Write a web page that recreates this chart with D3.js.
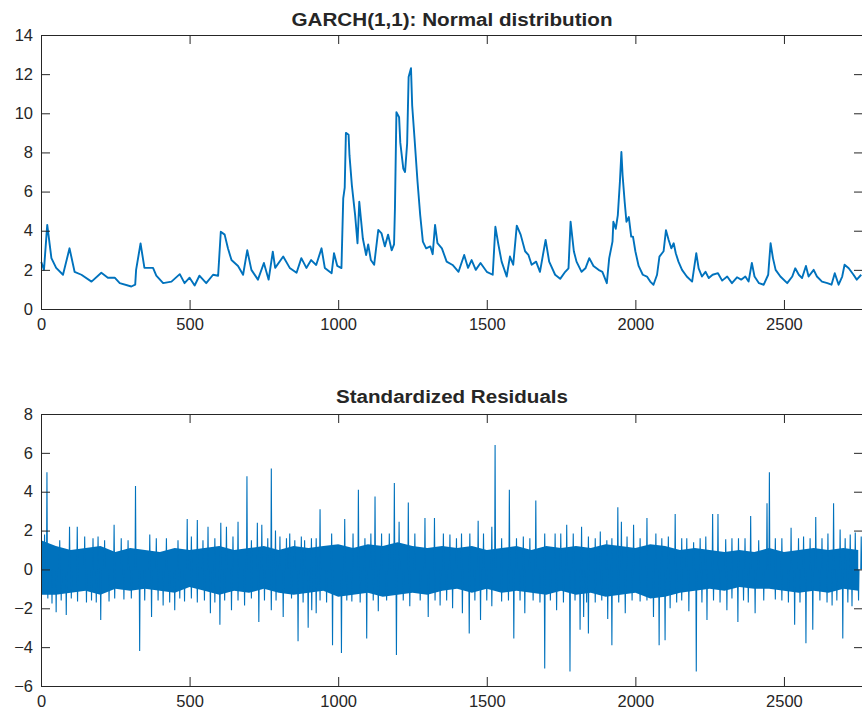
<!DOCTYPE html>
<html>
<head>
<meta charset="utf-8">
<title>GARCH(1,1)</title>
<script src="https://d3js.org/d3.v7.min.js"></script>
<style>
  body { margin: 0; background: #fff; }
  svg text { font-family: "Liberation Sans", Arial, Helvetica, sans-serif; fill: #262626; }
  .axis path, .axis line { stroke: #262626; stroke-width: 1; }
  .axis text { font-size: 16.5px; fill: #262626; }
  .titulo { font-size: 18px; font-weight: bold; }
</style>
</head>
<body>
<div id="chart"></div>
<script>
"use strict"

// ticks
var xTicks = [0, 500, 1000, 1500, 2000, 2500];
var yTicksVol = [0, 2, 4, 6, 8, 10, 12, 14];
var yTicksRes = [-6, -4, -2, 0, 2, 4, 6, 8];

// volatilidade condicional: indice e valor
var volIdx = [1, 10, 21, 35, 51, 74, 96, 113, 136, 170, 203, 225, 248, 265, 304, 317, 320, 335, 348, 377,
  388, 411, 439, 467, 483, 500, 517, 533, 556, 579, 596, 605, 618, 629, 641, 663, 680, 694, 708, 730,
  750, 766, 780, 788, 815, 837, 860, 876, 893, 909, 926, 944, 955, 978, 986, 997, 1011, 1017, 1022, 1026,
  1035, 1038, 1046, 1057, 1065, 1071, 1083, 1094, 1101, 1110, 1121, 1135, 1146, 1157, 1168, 1180, 1188, 1191, 1196, 1205,
  1209, 1219, 1225, 1232, 1237, 1245, 1249, 1257, 1267, 1276, 1285, 1296, 1310, 1318, 1326, 1334, 1349, 1365, 1385, 1405,
  1424, 1437, 1449, 1463, 1479, 1500, 1520, 1529, 1539, 1550, 1567, 1578, 1589, 1601, 1614, 1629, 1640, 1651, 1666, 1679,
  1698, 1710, 1730, 1747, 1764, 1775, 1782, 1793, 1802, 1819, 1832, 1845, 1859, 1876, 1889, 1904, 1912, 1923, 1926, 1934,
  1941, 1948, 1953, 1957, 1964, 1970, 1978, 1986, 1992, 2000, 2011, 2025, 2039, 2050, 2061, 2073, 2081, 2095, 2103, 2112,
  2121, 2129, 2136, 2145, 2157, 2173, 2191, 2205, 2213, 2224, 2236, 2247, 2260, 2278, 2292, 2309, 2325, 2342, 2356, 2370,
  2381, 2392, 2401, 2416, 2432, 2447, 2455, 2463, 2472, 2488, 2511, 2528, 2538, 2550, 2561, 2574, 2583, 2600, 2611, 2628,
  2646, 2660, 2671, 2684, 2696, 2704, 2718, 2734, 2745, 2760];
var volVal = [2.4, 2.0, 4.3, 2.6, 2.1, 1.75, 3.1, 1.9, 1.75, 1.4, 1.85, 1.6, 1.6, 1.32, 1.15, 1.24, 2.0, 3.35, 2.1, 2.1,
  1.7, 1.32, 1.4, 1.78, 1.32, 1.6, 1.2, 1.7, 1.32, 1.75, 1.7, 3.95, 3.8, 3.1, 2.5, 2.2, 1.75, 3.0, 2.0, 1.5,
  2.35, 1.5, 2.93, 2.1, 2.68, 2.1, 1.85, 2.6, 2.1, 2.5, 2.25, 3.1, 2.1, 1.83, 2.85, 2.2, 2.09, 5.65, 6.2, 9.0,
  8.9, 7.86, 6.33, 4.8, 3.36, 5.48, 3.6, 2.76, 3.3, 2.5, 2.26, 4.04, 3.86, 3.2, 3.8, 3.0, 3.3, 5.14, 10.06, 9.8,
  8.5, 7.18, 7.0, 8.45, 11.85, 12.3, 10.4, 8.7, 6.5, 4.8, 3.44, 3.1, 3.2, 2.8, 4.3, 3.36, 3.1, 2.42, 2.25, 1.9,
  2.76, 2.1, 2.5, 2.0, 2.35, 1.9, 1.75, 4.2, 3.3, 2.42, 1.66, 2.68, 2.26, 4.26, 3.8, 2.95, 2.77, 2.26, 2.42, 1.9,
  3.53, 2.42, 1.75, 1.54, 1.9, 2.08, 4.46, 2.95, 2.42, 1.9, 2.08, 2.6, 2.2, 2.0, 1.9, 1.32, 2.6, 3.44, 4.46, 4.1,
  4.8, 6.5, 8.02, 6.84, 5.48, 4.46, 4.7, 3.7, 3.7, 2.95, 2.2, 1.75, 1.66, 1.4, 1.24, 1.75, 2.68, 2.95, 4.03, 3.53,
  3.1, 3.36, 2.85, 2.42, 2.0, 1.66, 1.4, 2.85, 2.08, 1.66, 1.9, 1.58, 1.75, 1.83, 1.45, 1.66, 1.32, 1.62, 1.5, 1.66,
  1.4, 2.35, 1.66, 1.32, 1.24, 1.75, 3.36, 2.6, 2.0, 1.66, 1.32, 1.66, 2.08, 1.75, 1.58, 2.2, 1.66, 2.0, 1.66, 1.4,
  1.32, 1.24, 1.83, 1.24, 1.66, 2.26, 2.08, 1.75, 1.5, 1.75];

// residuos padronizados: faixa central (envelope) a cada 50 pontos
var bandIdx = [0, 50, 100, 150, 200, 250, 300, 350, 400, 450, 500, 550, 600, 650, 700, 750, 800, 850, 900, 950,
  1000, 1050, 1100, 1150, 1200, 1250, 1300, 1350, 1400, 1450, 1500, 1550, 1600, 1650, 1700, 1750, 1800, 1850, 1900, 1950,
  2000, 2050, 2100, 2150, 2200, 2250, 2300, 2350, 2400, 2450, 2500, 2550, 2600, 2650, 2700, 2750];
var bandHi = [1.5, 1.2, 1.0, 1.1, 1.2, 0.9, 1.1, 1.0, 0.9, 1.1, 1.0, 1.1, 1.2, 1.0, 1.1, 1.2, 1.0, 1.2, 1.1, 1.2,
  1.3, 1.1, 1.3, 1.2, 1.4, 1.2, 1.1, 1.2, 1.1, 1.2, 1.0, 1.1, 1.2, 1.0, 1.2, 1.1, 1.2, 1.1, 1.3, 1.2,
  1.1, 1.3, 1.2, 1.0, 1.1, 1.0, 0.9, 1.0, 0.9, 1.1, 0.9, 1.0, 1.1, 1.0, 1.1, 1.0];
var bandLo = [-1.3, -1.3, -1.2, -1.1, -1.3, -1.0, -1.1, -1.0, -1.1, -1.2, -0.9, -1.1, -1.3, -1.1, -1.2, -1.0, -1.2, -1.3, -1.2, -1.1,
  -1.4, -1.3, -1.2, -1.4, -1.3, -1.2, -1.3, -1.1, -1.0, -1.2, -1.0, -1.2, -1.1, -1.2, -1.3, -1.1, -1.3, -1.2, -1.4, -1.3,
  -1.2, -1.5, -1.4, -1.2, -1.1, -1.0, -1.1, -0.9, -1.0, -1.0, -1.1, -1.2, -1.1, -1.2, -1.0, -1.1];

// picos positivos
var upIdx = [12, 20, 63, 96, 122, 147, 175, 192, 214, 246, 270, 293, 318, 366, 388, 422, 461, 492, 506, 526,
  545, 562, 585, 605, 624, 646, 663, 693, 708, 728, 743, 763, 775, 789, 804, 826, 837, 854, 876, 887,
  910, 926, 939, 978, 1022, 1050, 1068, 1090, 1110, 1124, 1146, 1172, 1189, 1205, 1236, 1258, 1292, 1324, 1354, 1376,
  1398, 1415, 1443, 1471, 1489, 1517, 1528, 1550, 1576, 1600, 1623, 1645, 1665, 1695, 1730, 1749, 1769, 1791, 1819, 1842,
  1865, 1882, 1904, 1921, 1941, 1953, 1972, 1994, 2016, 2039, 2069, 2089, 2111, 2134, 2156, 2173, 2196, 2218, 2237, 2260,
  2278, 2304, 2325, 2347, 2369, 2388, 2415, 2443, 2451, 2471, 2493, 2524, 2549, 2566, 2588, 2607, 2628, 2648, 2667, 2689,
  2706, 2723, 2740, 2760];
var upVal = [1.8, 5.0, 1.5, 2.2, 2.2, 1.7, 1.6, 1.7, 1.5, 2.3, 1.6, 1.5, 4.3, 1.8, 1.6, 1.6, 1.5, 2.6, 1.7, 2.55,
  1.5, 2.2, 1.6, 2.4, 2.2, 1.7, 2.45, 4.8, 1.5, 2.4, 2.3, 1.6, 5.2, 2.0, 1.7, 1.6, 1.85, 1.5, 1.7, 1.5,
  1.6, 1.6, 3.1, 1.85, 2.6, 1.85, 4.1, 1.6, 1.85, 3.75, 1.85, 1.85, 4.45, 2.45, 3.45, 1.85, 2.65, 2.65, 1.85, 1.8,
  1.6, 1.85, 1.85, 2.5, 1.85, 2.2, 6.4, 1.6, 4.1, 1.6, 1.7, 1.6, 3.55, 1.85, 1.85, 1.85, 2.3, 1.85, 2.2, 1.7,
  1.6, 1.95, 1.5, 1.6, 3.2, 2.45, 1.7, 2.3, 1.6, 2.65, 1.85, 1.6, 1.7, 2.85, 1.6, 1.6, 1.4, 1.6, 1.7, 2.85,
  2.85, 1.55, 1.6, 1.6, 1.6, 2.75, 1.5, 3.4, 5.0, 1.6, 1.6, 2.15, 1.6, 1.7, 1.6, 2.7, 1.6, 1.85, 3.4, 2.05,
  1.6, 1.8, 1.9, 1.7];

// picos negativos
var dnIdx = [7, 23, 37, 51, 68, 85, 102, 123, 153, 170, 186, 201, 229, 248, 279, 304, 332, 349, 372, 394,
  411, 433, 450, 467, 483, 506, 526, 550, 570, 585, 602, 618, 641, 663, 685, 708, 733, 752, 775, 791,
  815, 843, 865, 882, 899, 911, 926, 939, 961, 981, 1011, 1029, 1046, 1074, 1096, 1118, 1135, 1163, 1196, 1219,
  1241, 1276, 1303, 1326, 1343, 1365, 1385, 1418, 1441, 1460, 1479, 1500, 1517, 1550, 1573, 1591, 1612, 1628, 1656, 1679,
  1695, 1714, 1735, 1758, 1780, 1797, 1814, 1826, 1836, 1842, 1865, 1887, 1907, 1921, 1944, 1966, 1989, 2016, 2039, 2061,
  2080, 2100, 2117, 2139, 2156, 2180, 2205, 2224, 2241, 2263, 2285, 2308, 2325, 2345, 2364, 2380, 2403, 2432, 2471, 2493,
  2515, 2536, 2554, 2574, 2597, 2621, 2645, 2662, 2678, 2698, 2715, 2729, 2751];
var dnVal = [-1.25, -1.5, -1.75, -2.2, -1.6, -2.35, -1.5, -1.65, -1.7, -1.6, -1.7, -2.6, -1.65, -1.5, -1.55, -1.5, -4.2, -1.6, -2.45, -1.6,
  -1.85, -1.7, -2.1, -1.5, -1.65, -1.5, -1.7, -1.6, -2.25, -1.7, -2.85, -1.6, -2.1, -1.6, -1.85, -1.5, -2.7, -1.6, -2.1, -1.6,
  -2.45, -1.5, -3.7, -1.7, -3.0, -2.1, -2.25, -1.6, -1.7, -3.9, -4.3, -1.6, -1.65, -1.7, -3.55, -1.6, -2.15, -1.6, -4.4, -1.6,
  -1.9, -1.6, -2.45, -1.6, -1.85, -1.6, -2.0, -2.25, -3.3, -1.6, -2.6, -1.6, -1.9, -1.65, -1.6, -3.55, -1.6, -2.25, -1.6, -1.7,
  -5.1, -1.6, -2.1, -1.7, -5.25, -1.6, -3.1, -2.45, -1.7, -3.3, -1.7, -1.6, -2.55, -3.9, -1.7, -2.25, -1.6, -1.65, -1.6, -2.45,
  -3.9, -3.65, -2.0, -1.7, -1.6, -2.15, -5.25, -1.7, -2.6, -1.6, -1.7, -2.1, -1.5, -2.7, -1.6, -1.7, -2.25, -1.6, -1.55, -1.6,
  -1.7, -2.85, -1.7, -3.8, -3.1, -1.6, -1.7, -1.85, -1.6, -3.55, -1.7, -1.9, -1.6];

var corLinha = '#0072BD';
var largura = 862, altura = 716;
var esquerda = 41, direita = 863;

var svg = d3.select('#chart').append('svg')
  .attr('width', largura)
  .attr('height', altura);

var x = d3.scaleLinear().domain([0, 2766]).range([esquerda, direita]);

function desenhaEixos(y, yTicks, topo, base) {
  svg.append('g').attr('class', 'axis')
    .attr('transform', 'translate(0,' + base + ')')
    .call(d3.axisBottom(x).tickValues(xTicks).tickSize(-9).tickSizeOuter(0).tickPadding(9).tickFormat(d3.format('d')));
  svg.append('g').attr('class', 'axis')
    .attr('transform', 'translate(0,' + topo + ')')
    .call(d3.axisTop(x).tickValues(xTicks).tickSize(-9).tickSizeOuter(0).tickFormat(''));
  svg.append('g').attr('class', 'axis')
    .attr('transform', 'translate(' + esquerda + ',0)')
    .call(d3.axisLeft(y).tickValues(yTicks).tickSize(-9).tickSizeOuter(0).tickPadding(8).tickFormat(d3.format('d')));
  svg.append('g').attr('class', 'axis')
    .attr('transform', 'translate(' + direita + ',0)')
    .call(d3.axisRight(y).tickValues(yTicks).tickSize(-9).tickSizeOuter(0).tickFormat(''));
  svg.selectAll('.axis text').attr('fill', '#262626');
}

// ---- grafico de cima: GARCH(1,1)
var yVol = d3.scaleLinear().domain([0, 14]).range([309, 35]);

svg.append('path')
  .datum(volIdx.map((d, i) => [d, volVal[i]]))
  .attr('fill', 'none')
  .attr('stroke', corLinha)
  .attr('stroke-width', 1.9)
  .attr('stroke-linejoin', 'round')
  .attr('d', d3.line().x(d => x(d[0])).y(d => yVol(d[1])));

desenhaEixos(yVol, yTicksVol, 35, 309);

svg.append('text').attr('class', 'titulo')
  .attr('x', (esquerda + direita) / 2).attr('y', 26)
  .attr('text-anchor', 'middle')
  .attr('textLength', 321).attr('lengthAdjust', 'spacingAndGlyphs')
  .text('GARCH(1,1): Normal distribution');

// ---- grafico de baixo: residuos
var yRes = d3.scaleLinear().domain([-6, 8]).range([686, 414]);

svg.append('path')
  .datum(bandIdx.map((d, i) => [d, bandLo[i], bandHi[i]]))
  .attr('fill', corLinha)
  .attr('d', d3.area().x(d => x(d[0])).y0(d => yRes(d[1])).y1(d => yRes(d[2])));

var picos = upIdx.map((d, i) => [d, upVal[i]])
  .concat(dnIdx.map((d, i) => [d, dnVal[i]]));

var linhaPico = d3.line().x(d => x(d[0])).y(d => yRes(d[1]));

svg.append('g').selectAll('path')
  .data(picos)
  .enter()
  .append('path')
  .attr('fill', 'none')
  .attr('stroke', corLinha)
  .attr('stroke-width', 1.1)
  .attr('d', d => linhaPico([[d[0] - 1.5, 0], [d[0], d[1]], [d[0] + 1.5, 0]]));

desenhaEixos(yRes, yTicksRes, 414, 686);

svg.append('text').attr('class', 'titulo')
  .attr('x', (esquerda + direita) / 2).attr('y', 403)
  .attr('text-anchor', 'middle')
  .attr('textLength', 232).attr('lengthAdjust', 'spacingAndGlyphs')
  .text('Standardized Residuals');

</script>
</body>
</html>
